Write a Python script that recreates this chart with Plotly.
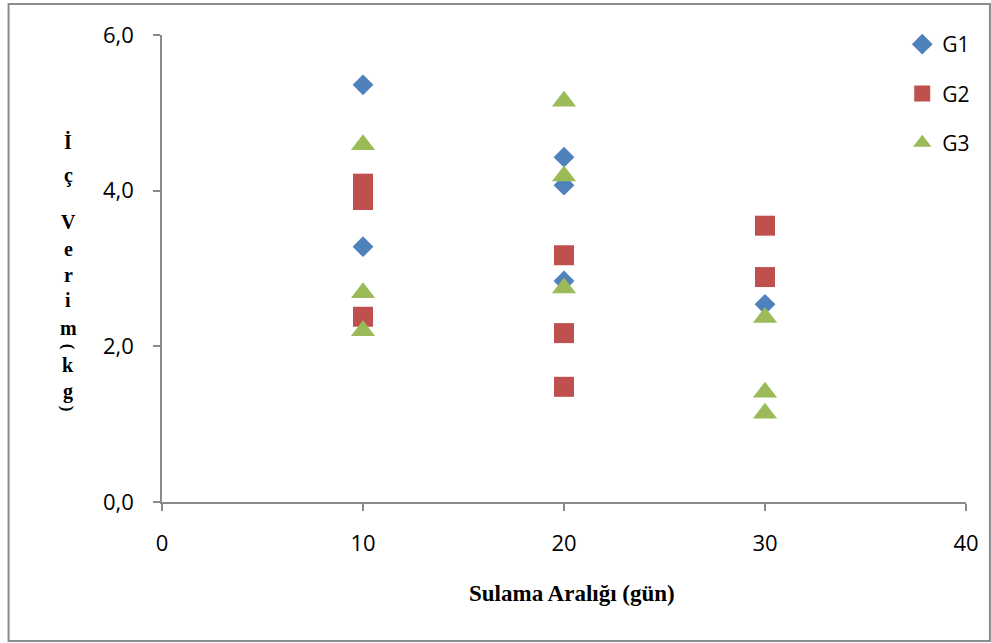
import plotly.graph_objects as go

# ---- data ----
g1_x = [10, 10, 20, 20, 20, 30]
g1_y = [5.36, 3.28, 4.43, 4.07, 2.84, 2.54]
g2_x = [10, 10, 10, 20, 20, 20, 30, 30]
g2_y = [4.09, 3.88, 2.38, 3.17, 2.17, 1.48, 3.55, 2.89]
g3_x = [10, 10, 10, 20, 20, 20, 30, 30, 30]
g3_y = [4.59, 2.69, 2.20, 5.15, 4.19, 2.75, 2.37, 1.41, 1.14]
series_names = ["G1", "G2", "G3"]
x_ticks = [0, 10, 20, 30, 40]
y_ticks = [0, 2, 4, 6]
y_tick_labels = ["0,0", "2,0", "4,0", "6,0"]
x_title = "Sulama Aralığı (gün)"
y_title_chars = ["İ", "ç", "V", "e", "r", "i", "m", "(", "k", "g", ")"]

# ---- layout constants ----
W, H = 991, 643
L, R, T, B = 162, 22, 35, 141
plot_h = H - T - B
pw = W - L - R
y_char_px = [141, 176, 222, 249, 275, 300, 328, 347, 365, 391, 409]

fig = go.Figure()
fig.add_trace(go.Scatter(x=g1_x, y=g1_y, mode="markers", name=series_names[0],
                         legendgroup="a",
                         marker=dict(symbol="diamond", size=16, color="#4F81BD")))
fig.add_trace(go.Scatter(x=g2_x, y=g2_y, mode="markers", name=series_names[1],
                         legendgroup="b",
                         marker=dict(symbol="square", size=20, color="#C0504D")))
fig.add_trace(go.Scatter(x=g3_x, y=g3_y, mode="markers", name=series_names[2],
                         legendgroup="c",
                         marker=dict(symbol="triangle-up", size=21, color="#9BBB59")))

axis_col = "#8a8a8a"
fig.update_layout(
    width=W, height=H,
    margin=dict(l=L, r=R, t=T, b=B),
    plot_bgcolor="white", paper_bgcolor="white",
    showlegend=True,
    legend=dict(x=(905 - L) / pw, y=(H - B - 24) / plot_h,
                xanchor="left", yanchor="top",
                font=dict(family="Open Sans", size=21, color="black"),
                tracegroupgap=19, itemwidth=30,
                bgcolor="rgba(0,0,0,0)"),
    xaxis=dict(range=[0, 40], tickvals=x_ticks, showgrid=False, zeroline=False,
               showline=True, linecolor=axis_col, linewidth=1.5,
               ticks="outside", ticklen=7, tickcolor=axis_col, tickwidth=1.5,
               ticklabelstandoff=14,
               tickfont=dict(family="Open Sans", size=22, color="black")),
    yaxis=dict(range=[0, 6], tickvals=y_ticks, ticktext=y_tick_labels,
               showgrid=False, zeroline=False,
               showline=True, linecolor=axis_col, linewidth=1.5,
               ticks="outside", ticklen=7, tickcolor=axis_col, tickwidth=1.5,
               ticklabelstandoff=15,
               tickfont=dict(family="Open Sans", size=22, color="black")),
)

# x-axis title
fig.add_annotation(text="<b>" + x_title + "</b>", xref="paper", yref="paper",
                   x=(574 - L) / pw, y=(H - B - 593) / plot_h,
                   showarrow=False, xanchor="center", yanchor="middle",
                   font=dict(family="Liberation Serif", size=23, color="black"))

# y-axis title as stacked characters (parentheses turned sideways)
for ch, py in zip(y_title_chars, y_char_px):
    paren = ch in ("(", ")")
    fig.add_annotation(text="<b>" + ch + "</b>", xref="paper", yref="paper",
                       x=(68 - L) / pw, y=(H - B - py) / plot_h,
                       showarrow=False, xanchor="center", yanchor="middle",
                       textangle=90 if paren else 0,
                       font=dict(family="Liberation Serif",
                                 size=17 if paren else 20, color="black"))

# outer border
fig.add_shape(type="rect", xref="paper", yref="paper",
              x0=(8 - L) / pw, x1=(993 - L) / pw,
              y0=(H - B - 641) / plot_h, y1=(H - B - 4) / plot_h,
              line=dict(color="#8c8c8c", width=2), fillcolor="rgba(0,0,0,0)",
              layer="below")

post = ("document.body.style.margin='0';document.body.style.padding='0';"
        "document.body.style.overflow='hidden';"
        "var gd=document.getElementById('{plot_id}');"
        "Plotly.relayout(gd,{width:991,height:643});")
fig.write_html("out.html", post_script=post, config={"displayModeBar": False})
